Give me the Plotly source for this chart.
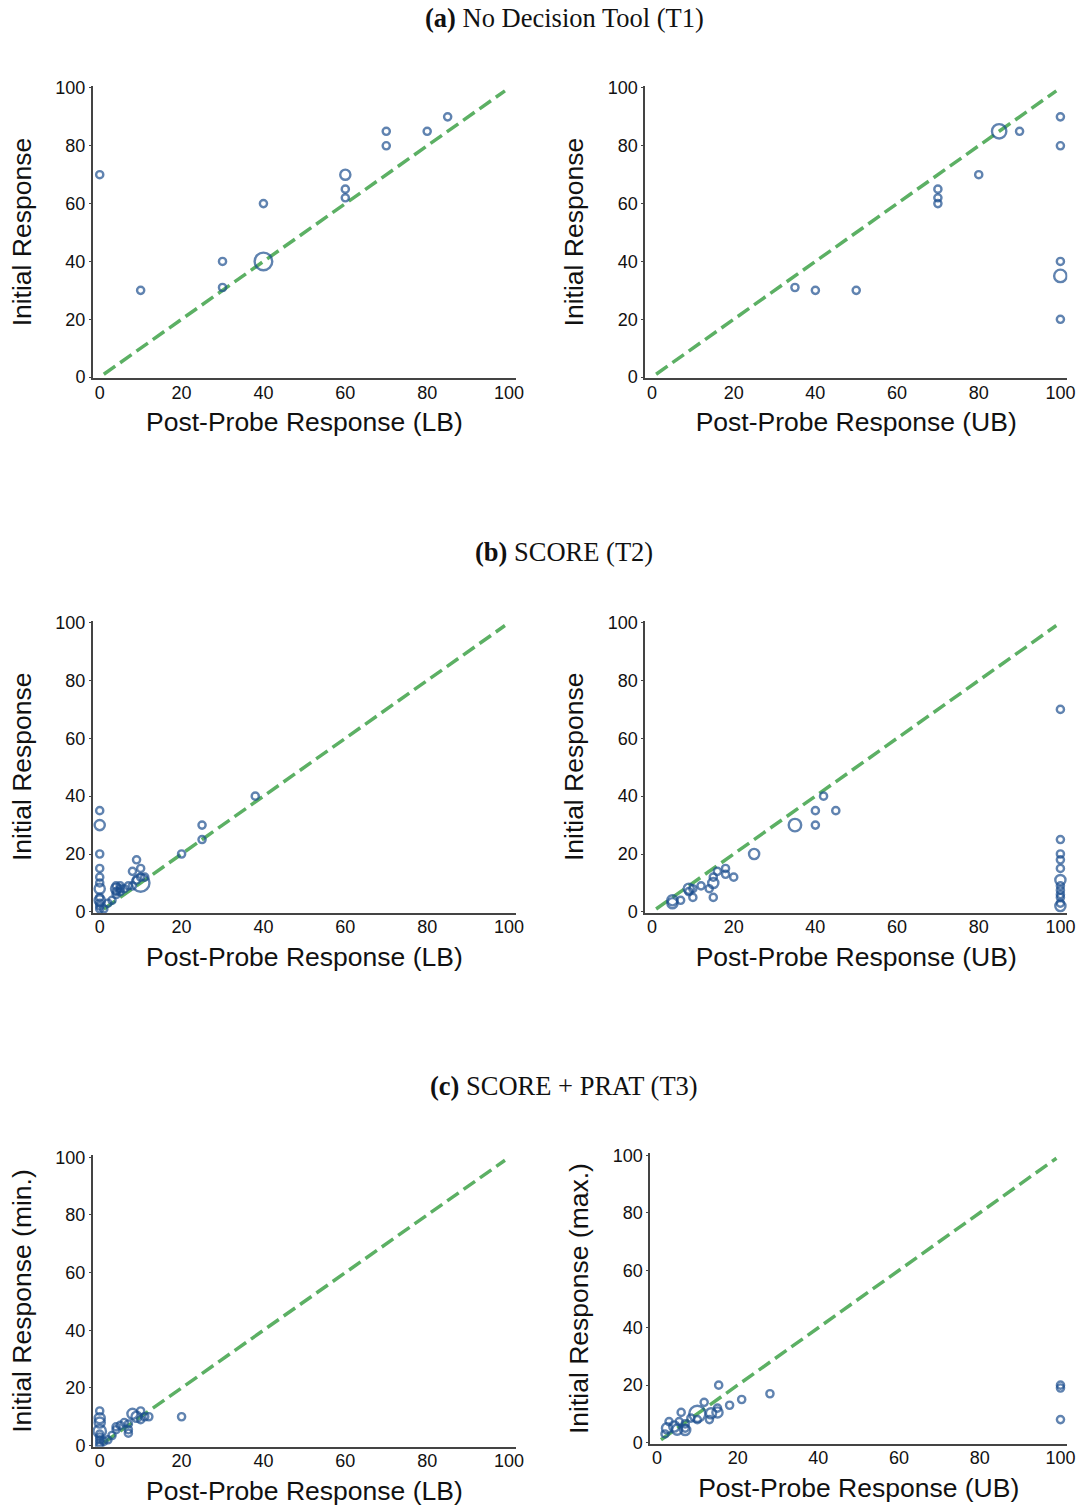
import numpy as np
import plotly.graph_objects as go

# ---------------- data ----------------
# (a) No Decision Tool (T1)
t1_lb_x = [0, 10, 30, 30, 40, 40, 60, 60, 60, 70, 70, 80, 85]
t1_lb_y = [70, 30, 40, 31, 40, 60, 70, 65, 62, 85, 80, 85, 90]
t1_lb_n = [1, 1, 1, 1, 6, 1, 2, 1, 1, 1, 1, 1, 1]

t1_ub_x = [35, 40, 50, 70, 70, 70, 80, 85, 90, 100, 100, 100, 100, 100]
t1_ub_y = [31, 30, 30, 65, 62, 60, 70, 85, 85, 90, 80, 40, 35, 20]
t1_ub_n = [1, 1, 1, 1, 1, 1, 1, 4, 1, 1, 1, 1, 3, 1]

# (b) SCORE (T2)
t2_lb_x = [0, 0, 0, 0, 0, 0, 0, 0, 0, 0, 0, 0,
           1, 2, 3, 4, 4, 5, 5, 4, 6, 5, 4, 7, 8,
           9, 8, 10, 10, 9, 11, 10, 20, 25, 25, 38]
t2_lb_y = [35, 30, 20, 15, 12, 10, 8, 5, 4, 3, 2, 1,
           1, 3, 4, 9, 8, 9, 8, 7, 8, 7, 6, 9, 9,
           18, 14, 15, 12, 11, 12, 10, 20, 30, 25, 40]
t2_lb_n = [1, 2, 1, 1, 1, 1, 2, 1, 2, 1, 1, 1,
           1, 1, 1, 1, 2, 1, 1, 1, 1, 1, 1, 1, 1,
           1, 1, 1, 1, 1, 1, 6, 1, 1, 1, 1]

t2_ub_x = [5, 5, 7, 9, 9, 10, 10, 12, 14, 15, 15, 15, 16, 18, 18, 20,
           25, 35, 40, 40, 42, 45,
           100, 100, 100, 100, 100, 100, 100, 100, 100, 100, 100, 100]
t2_ub_y = [4, 3, 4, 8, 7, 8, 5, 9, 8, 10, 12, 5, 14, 15, 13, 12,
           20, 30, 30, 35, 40, 35,
           70, 25, 20, 18, 15, 11, 9, 7.5, 6, 5, 3, 2]
t2_ub_n = [2, 2, 1, 2, 1, 1, 1, 1, 1, 2, 1, 1, 1, 1, 1, 1,
           2, 3, 1, 1, 1, 1,
           1, 1, 1, 1, 1, 2, 1, 1, 1, 1, 1, 2]

# (c) SCORE + PRAT (T3)
t3_lb_x = [0, 0, 0, 0, 0, 0, 0, 0, 0,
           1, 2, 3, 4, 4, 5, 6, 7, 7, 7, 8, 9, 10, 11, 12, 10, 20]
t3_lb_y = [12, 9.5, 8, 5, 4, 3, 2, 1, 0,
           1.5, 2, 3.5, 5.5, 6.5, 7, 8, 5.5, 4.3, 7.5, 11, 10, 12, 10, 10, 9, 10]
t3_lb_n = [1, 2, 2, 3, 1, 1, 1, 1, 1,
           1, 1, 1, 1, 1, 1, 1, 1, 1, 1, 2, 2, 1, 1, 1, 1, 1]

t3_ub_x = [2, 2.5, 3, 4.3, 5, 5.5, 6, 7, 7, 7, 8.4, 10, 10, 11.7, 13, 13.4,
           15, 15, 15.3, 18, 21, 28, 100, 100, 100]
t3_ub_y = [3, 5, 7.3, 5.6, 4.5, 7.3, 10.5, 6.5, 4.4, 5, 8.5, 10, 8, 14, 8, 10.2,
           12, 10.5, 20, 13, 15, 17, 20, 19, 8]
t3_ub_n = [1, 2, 1, 2, 2, 1, 1, 1, 2, 1, 1, 5, 1, 1, 1, 2,
           1, 2, 1, 1, 1, 1, 1, 1, 1]

panels = [
    ("x1", "y1", t1_lb_x, t1_lb_y, t1_lb_n),
    ("x2", "y2", t1_ub_x, t1_ub_y, t1_ub_n),
    ("x3", "y3", t2_lb_x, t2_lb_y, t2_lb_n),
    ("x4", "y4", t2_ub_x, t2_ub_y, t2_ub_n),
    ("x5", "y5", t3_lb_x, t3_lb_y, t3_lb_n),
    ("x6", "y6", t3_ub_x, t3_ub_y, t3_ub_n),
]

x_titles = ["Post-Probe Response (LB)", "Post-Probe Response (UB)"] * 3
y_titles = ["Initial Response", "Initial Response",
            "Initial Response", "Initial Response",
            "Initial Response (min.)", "Initial Response (max.)"]

section_titles = ["<b>(a)</b> No Decision Tool (T1)",
                  "<b>(b)</b> SCORE (T2)",
                  "<b>(c)</b> SCORE + PRAT (T3)"]

# ---------------- figure ----------------
W, H = 1081, 1508
BLUE = "#1d4f8e"
GREEN = "#5cb064"


def px_x(v):
    """Horizontal layout position (px) for a target on-screen position."""
    return (v + 0.7) / 0.992


def px_y(v):
    """Vertical layout position (px, from top) for a target on-screen position."""
    return (v - 8.2) / 0.9874


fig = go.Figure()

for xa, ya, xs, ys, ns in panels:
    fig.add_trace(go.Scatter(
        x=[1, 99], y=[1, 99], mode="lines",
        line=dict(color=GREEN, width=3.5, dash="14px,6px"),
        xaxis=xa, yaxis=ya, hoverinfo="skip", showlegend=False))
    fig.add_trace(go.Scatter(
        x=xs, y=ys, mode="markers",
        marker=dict(symbol="circle-open", color=BLUE,
                    size=7.2 * np.sqrt(np.array(ns, dtype=float)),
                    line=dict(width=2.4, color=BLUE)),
        xaxis=xa, yaxis=ya, showlegend=False))

# plot-area rectangles (left, right, top, bottom) in screen pixels
boxes = [
    (92, 515, 86, 378), (644, 1066, 86, 378),
    (92, 515, 620, 912), (644, 1066, 620, 912),
    (92, 515, 1154, 1445), (649, 1066, 1152, 1442),
]

tick_font = dict(family="Liberation Sans, Arial, sans-serif", size=18, color="#111")
title_font = dict(family="Liberation Sans, Arial, sans-serif", size=26.5, color="#111")

layout = {}
for i, (l, r, t, b) in enumerate(boxes, start=1):
    sfx = "" if i == 1 else str(i)
    layout["xaxis" + sfx] = dict(
        domain=[px_x(l) / W, px_x(r) / W], anchor="y" + sfx,
        range=[-1.7, 101.7], tickvals=[0, 20, 40, 60, 80, 100],
        showgrid=False, zeroline=False, showline=True,
        linecolor="#444", linewidth=1.5, ticks="", tickfont=tick_font,
        ticklabelstandoff=-3,
        title=dict(text=x_titles[i - 1], font=title_font, standoff=11),
    )
    layout["yaxis" + sfx] = dict(
        domain=[1 - px_y(b) / H, 1 - px_y(t) / H], anchor="x" + sfx,
        range=[-0.4, 100.7], tickvals=[0, 20, 40, 60, 80, 100],
        showgrid=False, zeroline=False, showline=True,
        linecolor="#444", linewidth=1.5, ticks="outside", ticklen=2,
        tickcolor="#444", tickfont=tick_font,
        title=dict(text=y_titles[i - 1], font=title_font, standoff=16),
    )

annotations = []
for txt, ypix in zip(section_titles, [18, 551, 1085]):
    annotations.append(dict(
        text=txt, x=px_x(563) / W, y=1 - px_y(ypix) / H,
        xref="paper", yref="paper",
        xanchor="center", yanchor="middle", showarrow=False,
        font=dict(family="Liberation Serif, Times New Roman, serif",
                  size=26.5, color="#111")))

fig.update_layout(
    width=W, height=H, margin=dict(l=0, r=0, t=0, b=0),
    paper_bgcolor="white", plot_bgcolor="white",
    annotations=annotations, **layout)

fig.write_html("out.html")
